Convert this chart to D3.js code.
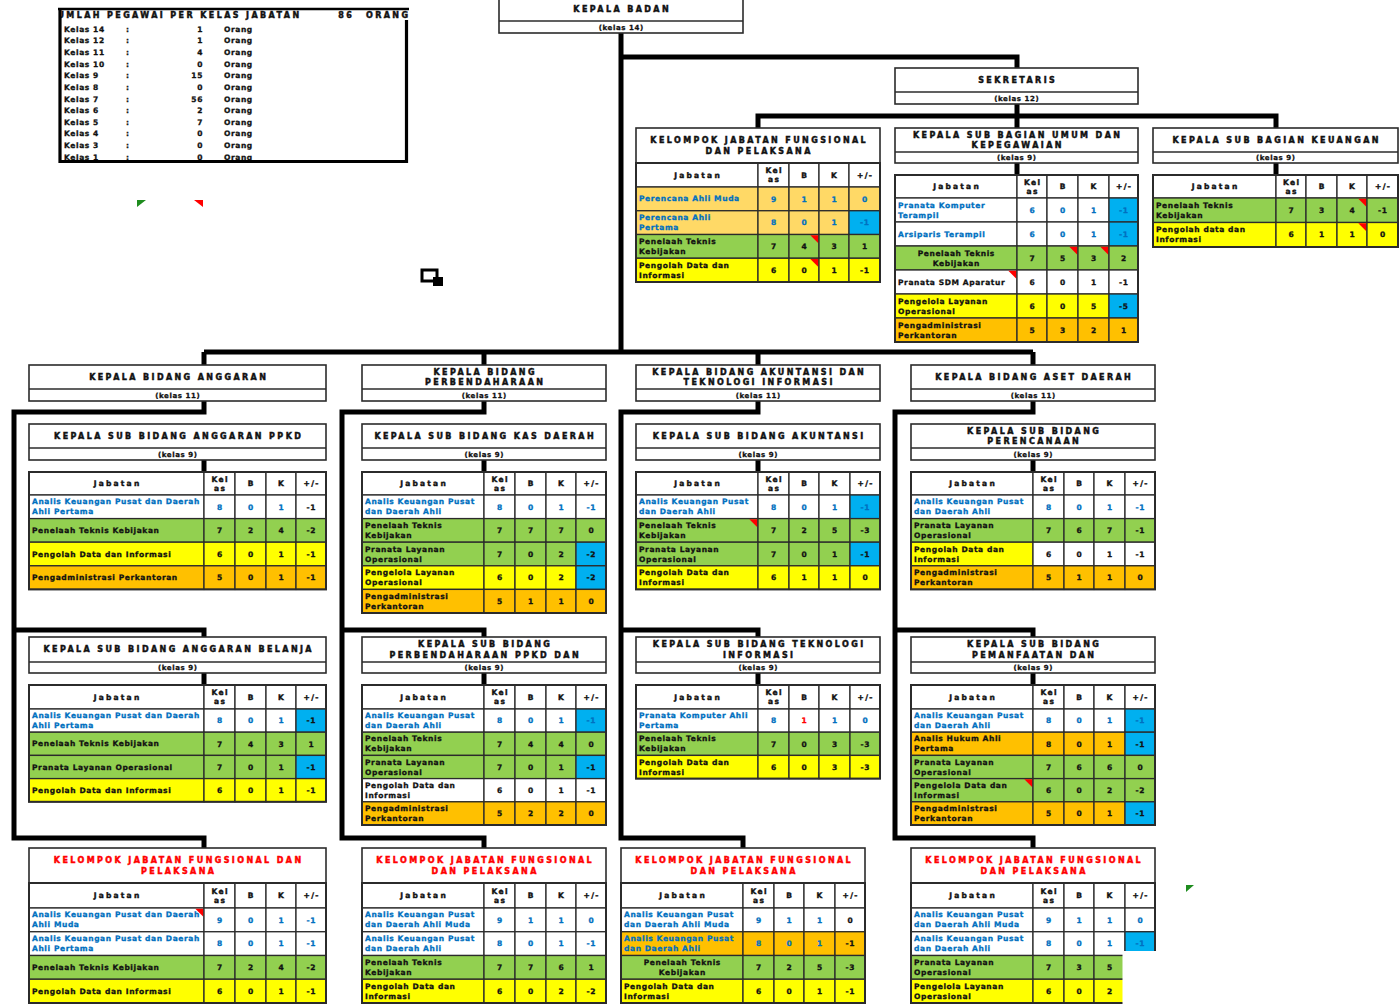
<!DOCTYPE html>
<html><head><meta charset="utf-8">
<script src="https://cdn.jsdelivr.net/npm/d3@7"></script>
<style>
body{margin:0;background:#fff;}
svg{display:block;font-family:"DejaVu Sans",sans-serif;}
</style></head><body>
<svg id="c" width="1399" height="1005"></svg>
<script>
// ---------------- DATA ----------------
const legendTitle = "JUMLAH PEGAWAI PER KELAS JABATAN";
const legendTotal = "86";
const legendUnitTitle = "ORANG";
const legendKelas = ["Kelas 14","Kelas 12","Kelas 11","Kelas 10","Kelas 9","Kelas 8","Kelas 7","Kelas 6","Kelas 5","Kelas 4","Kelas 3","Kelas 1"];
const legendJumlah = [1,1,4,0,15,0,56,2,7,0,0,0];
const legendUnit = "Orang";

const colHeaders = ["Jabatan","Kel|as","B","K","+/-"];

// row: [jabatan, kelas, B, K, +/-, fills(5), inks(5), marked cells, align]
const tblKjfSekretariat = [
  ["Perencana Ahli Muda",9,1,1,0,"ppppp","uuuuu"],
  ["Perencana Ahli|Pertama",8,0,1,-1,"ppppb","uuuuu"],
  ["Penelaah Teknis Kebijakan",7,4,3,1,"ggggg","kkkkk",[2]],
  ["Pengolah Data dan Informasi",6,0,1,-1,"yyyyy","kkkkk",[2]]
];
const tblSubagUmum = [
  ["Pranata Komputer Terampil",6,0,1,-1,"wwwwb","uuuuu"],
  ["Arsiparis Terampil",6,0,1,-1,"wwwwb","uuuuu"],
  ["Penelaah Teknis Kebijakan",7,5,3,2,"ggggg","kkkkk",[2,3],"c"],
  ["Pranata SDM Aparatur",6,0,1,-1,"wwwww","kkkkk",[0]],
  ["Pengelola Layanan Operasional",6,0,5,-5,"yyyyb","kkkkk"],
  ["Pengadministrasi Perkantoran",5,3,2,1,"ooooo","kkkkk"]
];
const tblSubagKeuangan = [
  ["Penelaah Teknis Kebijakan",7,3,4,-1,"ggggg","kkkkk",[3]],
  ["Pengolah data dan Informasi",6,1,1,0,"yyyyy","kkkkk",[3]]
];
const tblAnggaranPpkd = [
  ["Analis Keuangan Pusat dan Daerah|Ahli Pertama",8,0,1,-1,"wwwww","uuuuk"],
  ["Penelaah Teknis Kebijakan",7,2,4,-2,"ggggg"],
  ["Pengolah Data dan Informasi",6,0,1,-1,"yyyyy"],
  ["Pengadministrasi Perkantoran",5,0,1,-1,"ooooo"]
];
const tblKasDaerah = [
  ["Analis Keuangan Pusat dan Daerah Ahli",8,0,1,-1,"wwwww","uuuuu"],
  ["Penelaah Teknis Kebijakan",7,7,7,0,"ggggg"],
  ["Pranata Layanan Operasional",7,0,2,-2,"ggggb"],
  ["Pengelola Layanan Operasional",6,0,2,-2,"yyyyb"],
  ["Pengadministrasi Perkantoran",5,1,1,0,"ooooo"]
];
const tblAkuntansi = [
  ["Analis Keuangan Pusat dan Daerah Ahli",8,0,1,-1,"wwwwb","uuuuu"],
  ["Penelaah Teknis Kebijakan",7,2,5,-3,"ggggg","kkkkk",[0]],
  ["Pranata Layanan Operasional",7,0,1,-1,"ggggb"],
  ["Pengolah Data dan Informasi",6,1,1,0,"yyyyy"]
];
const tblPerencanaan = [
  ["Analis Keuangan Pusat dan Daerah Ahli",8,0,1,-1,"wwwww","uuuuu"],
  ["Pranata Layanan Operasional",7,6,7,-1,"ggggg"],
  ["Pengolah Data dan Informasi",6,0,1,-1,"ywwww"],
  ["Pengadministrasi Perkantoran",5,1,1,0,"ooooo"]
];
const tblAnggaranBelanja = [
  ["Analis Keuangan Pusat dan Daerah|Ahli Pertama",8,0,1,-1,"wwwwb","uuuuk"],
  ["Penelaah Teknis Kebijakan",7,4,3,1,"ggggg"],
  ["Pranata Layanan Operasional",7,0,1,-1,"ggggb"],
  ["Pengolah Data dan Informasi",6,0,1,-1,"yyyyy"]
];
const tblPerbendaharaanPpkd = [
  ["Analis Keuangan Pusat dan Daerah Ahli",8,0,1,-1,"wwwwb","uuuuu"],
  ["Penelaah Teknis Kebijakan",7,4,4,0,"ggggg"],
  ["Pranata Layanan Operasional",7,0,1,-1,"ggggb"],
  ["Pengolah Data dan Informasi",6,0,1,-1,"wwwww"],
  ["Pengadministrasi Perkantoran",5,2,2,0,"ooooo"]
];
const tblTeknologiInformasi = [
  ["Pranata Komputer Ahli Pertama",8,1,1,0,"wwwww","uuruu"],
  ["Penelaah Teknis Kebijakan",7,0,3,-3,"ggggg"],
  ["Pengolah Data dan Informasi",6,0,3,-3,"yyyyy"]
];
const tblPemanfaatan = [
  ["Analis Keuangan Pusat dan Daerah Ahli",8,0,1,-1,"wwwwb","uuuuu"],
  ["Analis Hukum Ahli Pertama",8,0,1,-1,"oooob","kkkkk"],
  ["Pranata Layanan Operasional",7,6,6,0,"ggggg"],
  ["Pengelola Data dan Informasi",6,0,2,-2,"ggggg","kkkkk",[0]],
  ["Pengadministrasi Perkantoran",5,0,1,-1,"oooob"]
];
const tblKjfAnggaran = [
  ["Analis Keuangan Pusat dan Daerah|Ahli Muda",9,0,1,-1,"wwwww","uuuuu",[0]],
  ["Analis Keuangan Pusat dan Daerah|Ahli Pertama",8,0,1,-1,"wwwww","uuuuu"],
  ["Penelaah Teknis Kebijakan",7,2,4,-2,"ggggg"],
  ["Pengolah Data dan Informasi",6,0,1,-1,"yyyyy"]
];
const tblKjfPerbendaharaan = [
  ["Analis Keuangan Pusat dan Daerah Ahli Muda",9,1,1,0,"wwwww","uuuuu"],
  ["Analis Keuangan Pusat dan Daerah Ahli",8,0,1,-1,"wwwww","uuuuu"],
  ["Penelaah Teknis Kebijakan",7,7,6,1,"ggggg"],
  ["Pengolah Data dan Informasi",6,0,2,-2,"yyyyy"]
];
const tblKjfAkuntansi = [
  ["Analis Keuangan Pusat dan Daerah Ahli Muda",9,1,1,0,"wwwww","uuuuk"],
  ["Analis Keuangan Pusat dan Daerah Ahli",8,0,1,-1,"ooooo","uuuuk"],
  ["Penelaah Teknis Kebijakan",7,2,5,-3,"ggggg","kkkkk",[],"c"],
  ["Pengolah Data dan Informasi",6,0,1,-1,"yyyyy"]
];
const tblKjfAset = [
  ["Analis Keuangan Pusat dan Daerah Ahli Muda",9,1,1,0,"wwwww","uuuuu"],
  ["Analis Keuangan Pusat dan Daerah Ahli",8,0,1,-1,"wwwwb","uuuuu"],
  ["Pranata Layanan Operasional",7,3,5,-2,"ggggg"],
  ["Pengelola Layanan Operasional",6,0,2,-2,"yyyyy"]
];

// ---------------- STYLE ----------------
const FILL = {w:"#ffffff", g:"#92D050", y:"#FFFF00", o:"#FFC000", p:"#FFD966", b:"#00B0F0"};
const INK = {k:"#111111", u:"#0070C0", r:"#FF0000"};
const EDGE = "#2b2b2b";
const T = {
  title:{size:8, ls:2.4, sw:0.45}, kelas:{size:7, ls:0.6, sw:0.3}, cell:{size:7.5, ls:0.6, sw:0.3},
  head:{size:7.5, ls:2.2, sw:0.4}, num:{size:7.5, ls:0.6, sw:0.3}, leg:{size:7.5, ls:0.6, sw:0.3}
};

const svg = d3.select("#c");
const defs = svg.append("defs");
defs.append("clipPath").attr("id","legclip").append("rect").attr("x",61).attr("y",0).attr("width",360).attr("height",30);
const lines = svg.append("g");
const root = svg.append("g");
const measurer = svg.append("text").attr("visibility","hidden").attr("font-weight","bold");

function measure(s, st){
  measurer.attr("font-size", st.size).attr("letter-spacing", st.ls).text(s);
  return measurer.node().getComputedTextLength();
}
function wrap(s, maxW, st){
  if (s.includes("|")) return s.split("|");
  const words = s.split(" "), out = [];
  let cur = "";
  for (const w of words){
    const t = cur ? cur + " " + w : w;
    if (!cur || measure(t, st) <= maxW) cur = t; else { out.push(cur); cur = w; }
  }
  if (cur) out.push(cur);
  return out;
}
function addText(g, x, y, s, st, anchor, color){
  const c = color || "#111";
  return g.append("text")
    .attr("x", anchor === "middle" ? x + st.ls/2 : x).attr("y", y)
    .attr("font-size", st.size).attr("letter-spacing", st.ls).attr("font-weight","bold")
    .attr("text-anchor", anchor || "start").attr("fill", c)
    .attr("stroke", c).attr("stroke-width", st.sw || 0).text(s);
}

function box(x, y, w, h, strip, titleLines, kelas, color){
  const g = root.append("g");
  g.append("rect").attr("x",x).attr("y",y).attr("width",w).attr("height",h)
    .attr("fill","#fff").attr("stroke",EDGE).attr("stroke-width",1.6);
  const th = h - strip;
  if (strip){
    g.append("line").attr("x1",x).attr("x2",x+w).attr("y1",y+th).attr("y2",y+th)
      .attr("stroke",EDGE).attr("stroke-width",1.4);
    addText(g, x+w/2, y+th+strip/2+2.5, kelas, T.kelas, "middle");
  }
  const lh = 10.5;
  titleLines.forEach((l,i)=>{
    addText(g, x+w/2, y+th/2+(i-(titleLines.length-1)/2)*lh+2.9, l, T.title, "middle", color);
  });
}

function table(x0, y0, widths, hh, rh, rows){
  const g = root.append("g");
  const edges = d3.cumsum([x0, ...widths]);
  const xCol = d3.scaleOrdinal().domain(d3.range(6)).range(edges);
  const n = rows.length;
  const yRow = d3.scaleBand().domain(d3.range(n)).range([y0+hh, y0+hh+rh*n]);
  colHeaders.forEach((h,c)=>{
    const cx0 = xCol(c), cw = xCol(c+1)-cx0;
    g.append("rect").attr("x",cx0).attr("y",y0).attr("width",cw).attr("height",hh)
      .attr("fill","#fff").attr("stroke",EDGE).attr("stroke-width",1.3);
    const ls = h.split("|");
    const st = c === 0 ? T.head : {size:7.5, ls:1.4, sw:0.4};
    ls.forEach((l,i)=> addText(g, cx0+cw/2, y0+hh/2+(i-(ls.length-1)/2)*9+2.7, l, st, "middle"));
  });
  rows.forEach((r,i)=>{
    const [jab, kelas, b, k, sel, fills="wwwww", inks="kkkkk", marks=[], align="l"] = r;
    const vals = [jab, kelas, b, k, sel];
    const y = yRow(i), h = yRow.bandwidth();
    vals.forEach((v,c)=>{
      const cx0 = xCol(c), cw = xCol(c+1)-cx0;
      g.append("rect").attr("x",cx0).attr("y",y).attr("width",cw).attr("height",h)
        .attr("fill",FILL[fills[c]]).attr("stroke",EDGE).attr("stroke-width",1.3);
      const col = INK[inks[c]];
      if (c === 0){
        const ls = wrap(v, cw-6, T.cell).slice(0,2);
        ls.forEach((l,j)=>{
          const ty = y+h/2+(j-(ls.length-1)/2)*10+2.6;
          if (align === "c") addText(g, cx0+cw/2, ty, l, T.cell, "middle", col);
          else addText(g, cx0+3, ty, l, T.cell, "start", col);
        });
      } else {
        addText(g, cx0+cw/2, y+h/2+2.7, String(v), T.num, "middle", col);
      }
      if (marks.includes(c)){
        const xr = cx0+cw-0.7, yt = y+0.7;
        g.append("path").attr("d",`M${xr-8},${yt} L${xr},${yt} L${xr},${yt+8} Z`).attr("fill","#FF0000");
      }
    });
  });
  g.append("rect").attr("x",x0).attr("y",y0).attr("width",edges[5]-x0).attr("height",hh+rh*n)
    .attr("fill","none").attr("stroke",EDGE).attr("stroke-width",2);
}

// ---------------- CONNECTORS ----------------
const conn = [
  "M621,30 V354",
  "M621,57 H1017 V70",
  "M1017,102 V130",
  "M758,130 V116 H1276 V130",
  "M1017,161 V177",
  "M1276,161 V177",
  "M204,352 H1033"
];
const colGeo = [
  {cx:204, lx:14, cb:204},
  {cx:484, lx:342, cb:484},
  {cx:758, lx:621, cb:743},
  {cx:1033, lx:895, cb:1033}
];
colGeo.forEach(c=>{
  conn.push(`M${c.cx},352 V367`);
  conn.push(`M${c.cx},399 V412 H${c.lx} V838 H${c.cb} V850`);
  conn.push(`M${c.cx},458 V474`);
  conn.push(`M${c.lx},630 H${c.cx} V639`);
  conn.push(`M${c.cx},671 V687`);
});
lines.selectAll("path").data(conn).join("path").attr("d",d=>d)
  .attr("fill","none").attr("stroke","#000").attr("stroke-width",5)
  .attr("stroke-linejoin","miter").attr("stroke-linecap","butt");

// ---------------- LEGEND ----------------
(function(){
  const g = root.append("g");
  const yL = d3.scalePoint().domain(legendKelas).range([29, 157]);
  legendKelas.forEach((k,i)=>{
    const y = yL(k)+2.7;
    addText(g, 64, y, k, T.leg, "start");
    addText(g, 126, y, ":", T.leg, "start");
    addText(g, 203, y, String(legendJumlah[i]), T.leg, "end");
    addText(g, 224, y, legendUnit, T.leg, "start");
  });
  const tg = g.append("g").attr("clip-path","url(#legclip)");
  addText(tg, 52, 18, legendTitle, T.title, "start");
  addText(tg, 345, 18, legendTotal, T.title, "middle");
  addText(tg, 366, 18, legendUnitTitle, T.title, "start");
  g.append("path").attr("d","M58,9 H409").attr("stroke","#000").attr("stroke-width",2.5).attr("fill","none");
  g.append("path").attr("d","M60,9 V161.5 H406.5 V20").attr("stroke","#000").attr("stroke-width",3.2).attr("fill","none");
})();

// ---------------- TOP SECTION ----------------
box(499, -2, 244, 35, 12, ["KEPALA BADAN"], "(kelas 14)");
box(895, 68, 243, 36, 12, ["SEKRETARIS"], "(kelas 12)");
box(636, 128, 244, 35, 0, ["KELOMPOK JABATAN FUNGSIONAL","DAN PELAKSANA"], "");
table(636, 163, [122,31,30,30,31], 24, 23.75, tblKjfSekretariat);
box(895, 128, 243, 35, 11, ["KEPALA SUB BAGIAN UMUM DAN","KEPEGAWAIAN"], "(kelas 9)");
table(895, 175, [122,30,31,31,29], 23, 24, tblSubagUmum);
box(1153, 128, 245, 35, 11, ["KEPALA SUB BAGIAN KEUANGAN"], "(kelas 9)");
table(1153, 175, [123,30,31,30,31], 23, 24.5, tblSubagKeuangan);

// ---------------- BIDANG ----------------
const cA = {x:29, w:[175,31,31,30,30]};
const cB = {x:362, w:[122,31,31,30,30]};
const cC = {x:636, w:[122,31,30,31,30]};
const cD = {x:911, w:[122,31,30,31,30]};
const cCb = {x:621, w:[122,31,30,31,30]};
const sum = a => d3.sum(a);

box(cA.x, 365, sum(cA.w), 36, 12, ["KEPALA BIDANG ANGGARAN"], "(kelas 11)");
box(cB.x, 365, sum(cB.w), 36, 12, ["KEPALA BIDANG","PERBENDAHARAAN"], "(kelas 11)");
box(cC.x, 365, sum(cC.w), 36, 12, ["KEPALA BIDANG AKUNTANSI DAN","TEKNOLOGI INFORMASI"], "(kelas 11)");
box(cD.x, 365, sum(cD.w), 36, 12, ["KEPALA BIDANG ASET DAERAH"], "(kelas 11)");

box(cA.x, 424, sum(cA.w), 36, 12, ["KEPALA SUB BIDANG ANGGARAN PPKD"], "(kelas 9)");
box(cB.x, 424, sum(cB.w), 36, 12, ["KEPALA SUB BIDANG KAS DAERAH"], "(kelas 9)");
box(cC.x, 424, sum(cC.w), 36, 12, ["KEPALA SUB BIDANG AKUNTANSI"], "(kelas 9)");
box(cD.x, 424, sum(cD.w), 36, 12, ["KEPALA SUB BIDANG","PERENCANAAN"], "(kelas 9)");
table(cA.x, 472, cA.w, 23, 23.6, tblAnggaranPpkd);
table(cB.x, 472, cB.w, 23, 23.6, tblKasDaerah);
table(cC.x, 472, cC.w, 23, 23.6, tblAkuntansi);
table(cD.x, 472, cD.w, 23, 23.6, tblPerencanaan);

box(cA.x, 637, sum(cA.w), 36, 11, ["KEPALA SUB BIDANG ANGGARAN BELANJA"], "(kelas 9)");
box(cB.x, 637, sum(cB.w), 36, 11, ["KEPALA SUB BIDANG","PERBENDAHARAAN PPKD DAN"], "(kelas 9)");
box(cC.x, 637, sum(cC.w), 36, 11, ["KEPALA SUB BIDANG TEKNOLOGI","INFORMASI"], "(kelas 9)");
box(cD.x, 637, sum(cD.w), 36, 11, ["KEPALA SUB BIDANG","PEMANFAATAN DAN"], "(kelas 9)");
table(cA.x, 685, cA.w, 24, 23.2, tblAnggaranBelanja);
table(cB.x, 685, cB.w, 24, 23.2, tblPerbendaharaanPpkd);
table(cC.x, 685, cC.w, 24, 23.2, tblTeknologiInformasi);
table(cD.x, 685, cD.w, 24, 23.2, tblPemanfaatan);

const RED = "#FF0000";
box(cA.x, 848, sum(cA.w), 35, 0, ["KELOMPOK JABATAN FUNGSIONAL DAN","PELAKSANA"], "", RED);
box(cB.x, 848, sum(cB.w), 35, 0, ["KELOMPOK JABATAN FUNGSIONAL","DAN PELAKSANA"], "", RED);
box(cCb.x, 848, sum(cCb.w), 35, 0, ["KELOMPOK JABATAN FUNGSIONAL","DAN PELAKSANA"], "", RED);
box(cD.x, 848, sum(cD.w), 35, 0, ["KELOMPOK JABATAN FUNGSIONAL","DAN PELAKSANA"], "", RED);
table(cA.x, 883, cA.w, 25, 23.75, tblKjfAnggaran);
table(cB.x, 883, cB.w, 25, 23.75, tblKjfPerbendaharaan);
table(cCb.x, 883, cCb.w, 25, 23.75, tblKjfAkuntansi);
table(cD.x, 883, cD.w, 25, 23.75, tblKjfAset);

// clipped area at the lower right of the last table
root.append("rect").attr("x",1122.5).attr("y",951).attr("width",40).attr("height",60).attr("fill","#fff");

// ---------------- SMALL MARKS ----------------
const deco = root.append("g");
deco.append("path").attr("d","M137,200 L146,200 L137,207 Z").attr("fill","#1E8C1E");
deco.append("path").attr("d","M194,200 L203,200 L203,207 Z").attr("fill","#FF0000");
deco.append("path").attr("d","M1186,885 L1194,885 L1186,892 Z").attr("fill","#1E8C1E");
deco.append("rect").attr("x",422).attr("y",270).attr("width",15).attr("height",11).attr("fill","#fff").attr("stroke","#000").attr("stroke-width",3);
deco.append("rect").attr("x",433).attr("y",277).attr("width",10).attr("height",9).attr("fill","#000");
</script>
</body></html>
